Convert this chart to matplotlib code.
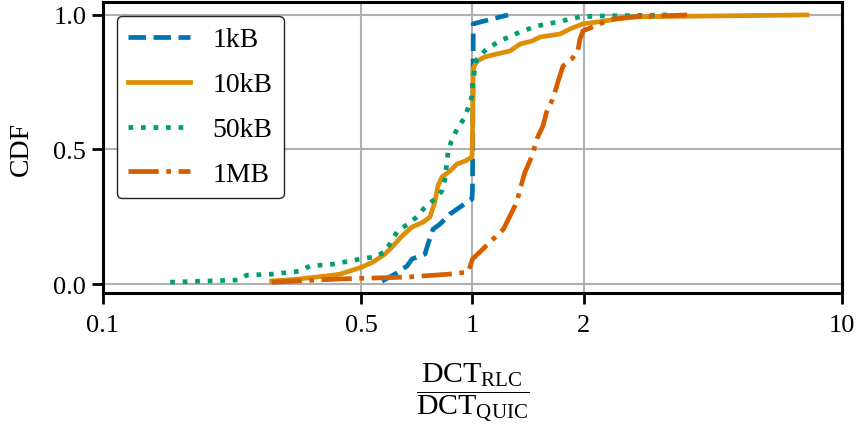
import matplotlib
matplotlib.use("Agg")
import matplotlib.pyplot as plt

plt.rcParams["font.family"] = ["Liberation Serif", "DejaVu Serif"]
plt.rcParams["mathtext.fontset"] = "custom"
plt.rcParams["mathtext.rm"] = "Liberation Serif"
plt.rcParams["mathtext.it"] = "Liberation Serif:italic"
plt.rcParams["mathtext.bf"] = "Liberation Serif:bold"

# CDF of the completion-time ratio per transfer size
ratio_1kb = [0.569, 0.617, 0.665, 0.686, 0.744, 0.758, 0.782, 0.817, 0.869, 0.925, 0.997, 1.0, 1.005, 1.248]
cdf_1kb = [0.011, 0.037, 0.067, 0.093, 0.112, 0.149, 0.204, 0.223, 0.260, 0.286, 0.316, 0.353, 0.967, 1.0]

ratio_10kb = [0.286, 0.34, 0.419, 0.438, 0.502, 0.538, 0.580, 0.609, 0.644, 0.686, 0.735, 0.767, 0.791,
              0.806, 0.827, 0.869, 0.908, 0.955, 0.997, 1.0, 1.003, 1.028, 1.081, 1.165, 1.263, 1.345,
              1.449, 1.523, 1.726, 1.836, 1.991, 2.214, 2.461, 2.787, 8.04]
cdf_10kb = [0.011, 0.019, 0.033, 0.037, 0.063, 0.082, 0.112, 0.141, 0.178, 0.212, 0.230, 0.249, 0.305,
            0.364, 0.398, 0.420, 0.446, 0.457, 0.472, 0.54, 0.80, 0.829, 0.844, 0.855, 0.866, 0.892,
            0.903, 0.918, 0.929, 0.948, 0.967, 0.975, 0.985, 0.993, 1.0]

ratio_50kb = [0.152, 0.232, 0.245, 0.288, 0.341, 0.363, 0.419, 0.496, 0.538, 0.580, 0.604, 0.627, 0.669,
              0.707, 0.744, 0.791, 0.827, 0.842, 0.852, 0.858, 0.877, 0.908, 0.955, 0.997, 1.003, 1.028,
              1.093, 1.186, 1.346, 1.495, 1.698, 1.955, 2.254, 2.717, 3.42]
cdf_50kb = [0.007, 0.015, 0.033, 0.037, 0.048, 0.067, 0.074, 0.093, 0.100, 0.119, 0.160, 0.197, 0.223,
            0.249, 0.286, 0.316, 0.346, 0.390, 0.446, 0.491, 0.532, 0.576, 0.621, 0.699, 0.762, 0.836,
            0.874, 0.903, 0.937, 0.959, 0.974, 0.993, 0.996, 0.998, 1.0]

ratio_1mb = [0.286, 0.438, 0.665, 0.869, 0.974, 1.0, 1.067, 1.137, 1.213, 1.263, 1.319, 1.345, 1.387,
             1.449, 1.495, 1.551, 1.587, 1.650, 1.703, 1.757, 1.856, 1.927, 1.955, 1.991, 2.148, 2.353,
             2.717, 3.81]
cdf_1mb = [0.007, 0.019, 0.026, 0.037, 0.045, 0.093, 0.130, 0.167, 0.204, 0.253, 0.305, 0.353, 0.416,
           0.476, 0.541, 0.587, 0.639, 0.688, 0.751, 0.810, 0.836, 0.866, 0.911, 0.941, 0.959, 0.983,
           0.993, 1.0]

labels = ["1kB", "10kB", "50kB", "1MB"]
colors = ["#0173b2", "#de8f05", "#029e73", "#d55e00"]
styles = ["--", "-", ":", "-."]

xticks = [0.1, 0.5, 1, 2, 10]
xticklabels = ["0.1", "0.5", "1", "2", "10"]
yticks = [0.0, 0.5, 1.0]
yticklabels = ["0.0", "0.5", "1.0"]

fig = plt.figure(figsize=(8.59, 4.31), dpi=100)
ax = fig.add_axes([0.1199, 0.318, 0.8603, 0.675])

series = [(ratio_1kb, cdf_1kb), (ratio_10kb, cdf_10kb), (ratio_50kb, cdf_50kb), (ratio_1mb, cdf_1mb)]
for (xs, ys), lab, c, ls in zip(series, labels, colors, styles):
    ax.plot(xs, ys, color=c, linestyle=ls, linewidth=3.4, label=lab)

ax.set_xscale("log")
ax.set_xlim(0.1, 10)
ax.set_ylim(-0.033, 1.048)
ax.set_xticks(xticks)
ax.set_xticklabels(xticklabels)
ax.xaxis.set_minor_locator(matplotlib.ticker.NullLocator())
ax.set_yticks(yticks)
ax.set_yticklabels(yticklabels)
ax.tick_params(axis="both", which="major", labelsize=19, length=8, width=2)
ax.tick_params(axis="x", pad=7)
ax.tick_params(axis="y", pad=4)

ax.grid(True, color="#b0b0b0", linewidth=1.5)
ax.set_axisbelow(True)
for sp in ax.spines.values():
    sp.set_linewidth(2.2)
    sp.set_color("black")

ax.set_ylabel("CDF", fontsize=20, labelpad=14)
ax.set_xlabel(r"$\dfrac{\mathrm{DCT}_{\mathrm{RLC}}}{\mathrm{DCT}_{\mathrm{QUIC}}}$", fontsize=21.5, labelpad=18)

leg = ax.legend(loc="upper left", fontsize=20, handlelength=2.25, labelspacing=0.7,
                handletextpad=0.8, borderpad=0.4, fancybox=True, framealpha=1,
                bbox_to_anchor=(0.0, 1.0), borderaxespad=0.5)
leg.get_frame().set_edgecolor("#222222")
leg.get_frame().set_linewidth(1.0)

fig.savefig("out.png", dpi=100)
